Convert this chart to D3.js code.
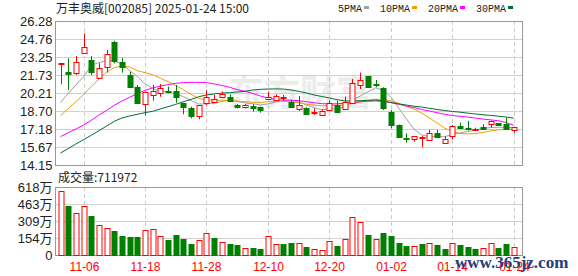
<!DOCTYPE html>
<html>
<head>
<meta charset="utf-8">
<script src="https://cdn.jsdelivr.net/npm/d3@7"></script>
<style>
  body { margin: 0; background: #fff; }
  svg { display: block; font-family: 'Liberation Sans', Arial, sans-serif; }
  .cn { font-family: 'Noto Sans CJK SC', sans-serif; }
</style>
</head>
<body>
<svg width="578" height="276"></svg>
<script>
const dates = [
  '11-01','11-04','11-05','11-06','11-07','11-08','11-11','11-12','11-13','11-14',
  '11-15','11-18','11-19','11-20','11-21','11-22','11-25','11-26','11-27','11-28',
  '11-29','12-02','12-03','12-04','12-05','12-06','12-09','12-10','12-11','12-12',
  '12-13','12-16','12-17','12-18','12-19','12-20','12-23','12-24','12-25','12-26',
  '12-27','12-30','12-31','01-02','01-03','01-06','01-07','01-08','01-09','01-10',
  '01-13','01-14','01-15','01-16','01-17','01-20','01-21','01-22','01-23','01-24'
];
const open = [
  22.70,22.01,21.93,23.64,22.99,21.45,22.38,24.54,22.80,21.73,
  20.75,19.35,20.05,20.19,20.40,20.38,19.35,18.92,18.28,19.35,
  19.49,19.85,19.90,19.20,19.01,19.12,19.06,19.71,19.68,19.80,
  19.49,18.87,18.98,18.58,18.30,18.78,19.20,18.92,19.35,20.85,
  21.62,21.00,20.61,18.64,17.52,16.43,16.37,16.40,16.26,16.82,
  16.03,16.59,17.46,17.28,17.20,17.38,17.58,17.66,17.64,17.04
];
const high = [
  22.72,23.14,23.33,25.24,23.33,22.72,23.84,24.62,23.19,22.01,
  20.89,20.33,20.89,20.97,20.75,20.89,19.40,19.06,19.20,20.47,
  20.05,20.33,20.10,19.29,19.29,19.29,19.06,20.33,20.10,20.05,
  19.63,19.96,19.01,18.92,18.84,19.57,19.57,19.90,21.40,21.93,
  21.65,21.31,20.70,18.78,17.55,16.82,16.60,16.59,17.10,17.10,
  16.59,17.52,17.72,17.86,17.30,17.58,17.89,17.68,18.13,17.33
];
const low = [
  20.95,20.47,21.73,23.64,21.73,21.40,21.93,22.72,21.93,20.70,
  19.38,18.30,19.57,19.90,20.19,19.40,18.42,18.08,18.00,19.20,
  19.49,19.77,19.49,18.92,18.92,18.64,18.56,19.63,19.63,19.57,
  19.01,18.70,18.42,18.36,18.28,18.78,18.56,18.92,19.35,20.55,
  20.65,20.70,18.78,17.24,16.50,16.03,16.11,15.64,16.17,16.48,
  16.00,16.31,17.16,17.04,17.12,17.22,17.30,17.50,17.22,16.87
];
const close = [
  22.72,21.87,22.85,24.12,22.01,22.29,23.50,22.94,22.38,20.75,
  19.40,20.33,20.38,20.61,20.36,19.90,19.01,18.22,19.20,19.85,
  19.71,20.13,19.57,19.01,19.20,18.92,18.78,19.90,19.99,19.84,
  19.06,19.20,18.50,18.62,18.66,19.35,18.64,19.49,21.03,21.28,
  20.68,20.96,18.92,17.52,16.53,16.38,16.59,16.48,16.87,16.48,
  16.38,17.42,17.30,17.25,17.22,17.25,17.86,17.52,17.24,17.33
];
const prevClose = 20.65;
// volume in 万
const volume = [
  579,447,381,444,357,273,246,222,177,168,
  168,228,237,174,132,183,147,102,138,198,
  156,120,102,93,63,66,57,171,99,102,
  111,108,75,57,48,126,84,144,342,300,
  183,144,201,174,110,85,80,100,108,92,
  57,108,90,72,57,66,108,66,99,71.2
];
const ma5 = [
  19.40,20.19,20.89,21.59,22.55,22.77,22.94,22.91,22.66,22.10,
  21.60,21.00,20.60,20.38,20.30,20.13,19.91,19.58,19.28,19.30,
  19.35,19.50,19.62,19.50,19.38,19.32,19.20,19.30,19.45,19.55,
  19.55,19.50,19.20,18.98,18.81,18.86,18.88,19.05,19.60,19.96,
  20.30,20.65,20.45,19.88,18.96,18.06,17.18,16.68,16.54,16.53,
  16.54,16.72,16.86,16.97,17.10,17.23,17.30,17.33,17.31,17.30
];
const ma10 = [
  18.31,18.90,19.48,20.07,20.75,21.39,21.98,22.35,22.49,22.40,
  22.10,21.93,21.75,21.45,21.17,20.85,20.50,20.10,19.75,19.62,
  19.62,19.60,19.58,19.54,19.48,19.43,19.42,19.48,19.52,19.52,
  19.46,19.40,19.27,19.20,19.14,19.17,19.19,19.20,19.33,19.45,
  19.58,19.68,19.70,19.55,19.36,19.08,18.86,18.52,18.12,17.70,
  17.26,16.98,16.80,16.77,16.79,16.88,17.03,17.11,17.15,17.16
];
const ma20 = [
  16.54,16.87,17.18,17.52,17.91,18.36,18.75,19.18,19.54,19.85,
  20.16,20.44,20.64,20.80,20.92,21.03,21.09,21.11,21.11,21.10,
  20.98,20.85,20.70,20.50,20.36,20.18,19.96,19.80,19.67,19.62,
  19.61,19.57,19.48,19.39,19.32,19.29,19.31,19.35,19.42,19.48,
  19.52,19.54,19.52,19.40,19.27,19.13,18.99,18.83,18.70,18.56,
  18.42,18.32,18.25,18.19,18.10,18.02,17.95,17.88,17.72,17.50
];
const ma30 = [
  15.16,15.53,15.92,16.28,16.65,17.04,17.43,17.83,18.11,18.28,
  18.42,18.56,18.67,18.87,19.06,19.26,19.48,19.68,19.90,20.05,
  20.13,20.21,20.24,20.30,20.35,20.47,20.52,20.55,20.56,20.55,
  20.47,20.36,20.22,20.05,19.92,19.80,19.65,19.55,19.55,19.57,
  19.60,19.62,19.56,19.42,19.30,19.20,19.10,19.03,18.93,18.83,
  18.74,18.66,18.60,18.52,18.45,18.38,18.33,18.26,18.19,18.10
];
const priceTicks = ['26.28','24.76','23.25','21.73','20.21','18.70','17.18','15.67','14.15'];
const volTicks = [0, 154, 309, 463, 618];
const xTicks = ['11-06','11-18','11-28','12-10','12-20','01-02','01-14','01-24'];
const maNames = ['5PMA','10PMA','20PMA','30PMA'];
const maColors = ['#a0a0a0','#f0a000','#ff00ff','#006f2e'];
const title = '万丰奥威[002085] 2025-01-24 15:00';
const volLabel = '成交量:711972';

const svg = d3.select('svg');
const left = 55.5, right = 522.5;
const main = { top: 21, bottom: 165 };
const vol = { top: 187, bottom: 255 };
const up = '#ff0000', down = '#008000';
const gridColor = '#d0d0d0', borderColor = '#999';

const xScale = d3.scaleLinear().domain([0, dates.length - 1]).range([60.5, 513.8]);
const px = i => Math.round(xScale(i)) + 0.5;
const yScale = d3.scaleLinear()
  .domain([+priceTicks[priceTicks.length - 1], +priceTicks[0]])
  .range([main.bottom, main.top]);
const vScale = d3.scaleLinear().domain([0, 618]).range([vol.bottom, vol.top]);

// watermark
svg.append('text').attr('class', 'cn')
  .attr('x', 300).attr('y', 106)
  .attr('text-anchor', 'middle')
  .attr('font-size', 36).attr('font-weight', 'bold')
  .attr('fill', '#ececec')
  .text('东方财富');

// horizontal grid
const yAxis = d3.axisLeft(yScale)
  .tickValues(priceTicks.map(Number))
  .tickFormat((d, i) => priceTicks[i])
  .tickSize(-(right - left))
  .tickPadding(3);
const yAxisG = svg.append('g').attr('transform', `translate(${left},0)`).call(yAxis);
yAxisG.select('.domain').remove();
yAxisG.selectAll('.tick line').attr('stroke', gridColor);
yAxisG.selectAll('.tick text').attr('font-size', 13).attr('fill', '#222');

const vAxis = d3.axisLeft(vScale)
  .tickValues(volTicks)
  .tickFormat(d => d === 0 ? '0' : d + '万')
  .tickSize(-(right - left))
  .tickPadding(3);
const vAxisG = svg.append('g').attr('transform', `translate(${left},0)`).call(vAxis);
vAxisG.select('.domain').remove();
vAxisG.selectAll('.tick line').attr('stroke', gridColor);
vAxisG.selectAll('.tick text').attr('font-size', 13).attr('fill', '#222')
  .attr('font-family', "'Liberation Sans', 'Noto Sans CJK SC', sans-serif");

// vertical dashed grid
const tickIdx = xTicks.map(t => dates.indexOf(t));
[[main.top, main.bottom], [vol.top, vol.bottom]].forEach(([t, b]) => {
  svg.append('g').selectAll('line').data(tickIdx).join('line')
    .attr('x1', px).attr('x2', px)
    .attr('y1', t).attr('y2', b)
    .attr('stroke', '#ccc')
    .attr('stroke-dasharray', '4,3');
});

// borders
[[main.top, main.bottom], [vol.top, vol.bottom]].forEach(([t, b]) => {
  svg.append('rect')
    .attr('x', left).attr('y', t + 0.5)
    .attr('width', right - left).attr('height', b - t)
    .attr('fill', 'none').attr('stroke', borderColor);
});

// moving averages
const line = d3.line().x((d, i) => xScale(i)).y(d => yScale(d));
[ma5, ma10, ma20, ma30].forEach((s, k) => {
  svg.append('path')
    .attr('d', line(s))
    .attr('fill', 'none')
    .attr('stroke', maColors[k])
    .attr('stroke-width', 1);
});

// candles
const candles = svg.append('g').selectAll('g').data(dates).join('g');
candles.append('line')
  .attr('x1', (d, i) => px(i)).attr('x2', (d, i) => px(i))
  .attr('y1', (d, i) => yScale(high[i])).attr('y2', (d, i) => yScale(low[i]))
  .attr('stroke', (d, i) => close[i] >= open[i] ? up : down);
candles.append('rect')
  .attr('x', (d, i) => px(i) - 2.5)
  .attr('width', 5)
  .attr('y', (d, i) => Math.round(yScale(Math.max(open[i], close[i]))) + 0.5)
  .attr('height', (d, i) => Math.max(1, Math.round(Math.abs(yScale(open[i]) - yScale(close[i])))))
  .attr('fill', (d, i) => close[i] >= open[i] ? '#fff' : down)
  .attr('stroke', (d, i) => close[i] >= open[i] ? up : down);

// volume bars, coloured by change from previous close
const rising = i => close[i] >= (i === 0 ? prevClose : close[i - 1]);
svg.append('g').selectAll('rect').data(volume).join('rect')
  .attr('x', (d, i) => px(i) - 2.5)
  .attr('width', 5)
  .attr('y', d => Math.round(vScale(d)) + 0.5)
  .attr('height', d => vol.bottom - Math.round(vScale(d)))
  .attr('fill', (d, i) => rising(i) ? '#fff' : down)
  .attr('stroke', (d, i) => rising(i) ? up : down);

// x labels
svg.append('g').selectAll('text').data(xTicks).join('text')
  .attr('x', (d, i) => px(tickIdx[i]))
  .attr('y', 271)
  .attr('text-anchor', 'middle')
  .attr('font-size', 12)
  .attr('fill', '#ff0000')
  .text(d => d);

// title and labels
svg.append('text').attr('class', 'cn')
  .attr('x', 56).attr('y', 13)
  .attr('font-size', 12).attr('fill', '#222')
  .text(title);
svg.append('text').attr('class', 'cn')
  .attr('x', 58).attr('y', 182)
  .attr('font-size', 12).attr('fill', '#222')
  .text(volLabel);

// legend
let lx = 338;
maNames.forEach((n, k) => {
  const t = svg.append('text')
    .attr('x', lx).attr('y', 12)
    .attr('font-family', "'Liberation Mono', monospace")
    .attr('font-size', 10).attr('fill', '#222')
    .text(n);
  lx += t.node().getComputedTextLength() + 2;
  svg.append('rect').attr('x', lx).attr('y', 6).attr('width', 5).attr('height', 3)
    .attr('fill', maColors[k]);
  lx += 16;
});

// site mark
svg.append('text')
  .attr('x', 455).attr('y', 268)
  .attr('font-family', "'Liberation Serif', serif")
  .attr('font-size', 17).attr('font-weight', 'bold')
  .attr('fill', '#21407a')
  .text('www.365jz.com');
</script>
</body>
</html>
